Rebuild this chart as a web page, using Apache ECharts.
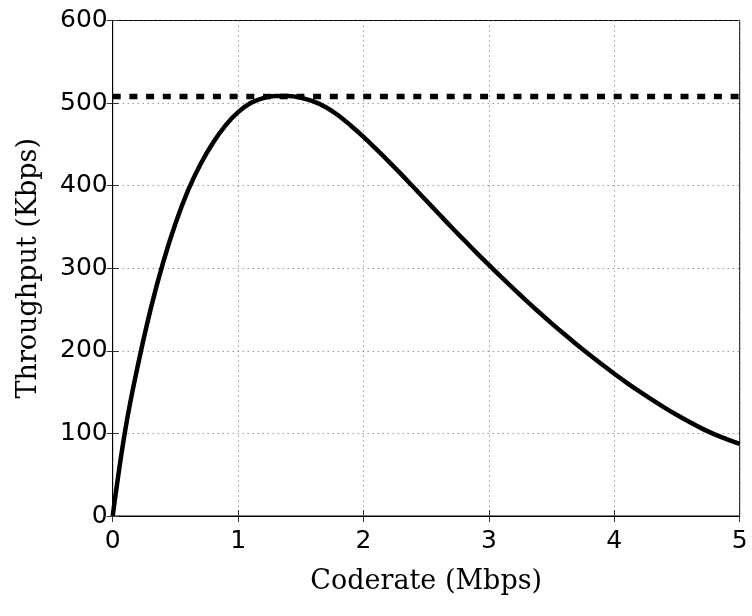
<!DOCTYPE html>
<html>
<head>
<meta charset="utf-8">
<script src="https://cdn.jsdelivr.net/npm/echarts@6/dist/echarts.min.js"></script>
<style>html,body{margin:0;padding:0;background:#fff;}#c{width:752px;height:616px;}</style>
</head>
<body>
<div id="c"></div>
<script>
// Data
var coderate = [0.0,0.1,0.2,0.3,0.4,0.5,0.6,0.7,0.8,0.9,
  1.0,1.1,1.2,1.3,1.4,1.5,1.6,1.7,1.8,1.9,
  2.0,2.1,2.2,2.3,2.4,2.5,2.6,2.7,2.8,2.9,
  3.0,3.1,3.2,3.3,3.4,3.5,3.6,3.7,3.8,3.9,
  4.0,4.1,4.2,4.3,4.4,4.5,4.6,4.7,4.8,4.9,5.0];
var throughput = [0,104,182,249,306,354,394,426,452,473,
  489,500,506,508.5,508.5,506.5,502,495,485,472.5,
  459,444.5,429.5,414,398,382,366,350,334.5,319,
  304,289.2,274.7,260.5,246.7,233.3,220.3,207.7,195.5,183.7,
  172.3,161.3,150.8,140.8,131.3,122.3,113.8,105.8,98.8,92.8,87.3];
var maxLineX = [0, 5];
var maxLineY = [508, 508];
var xTicks = [0,1,2,3,4,5];
var yTicks = [0,100,200,300,400,500,600];

var curve = coderate.map(function(x,i){return [x, throughput[i]];});
var maxLine = maxLineX.map(function(x,i){return [x, maxLineY[i]];});

var chart = echarts.init(document.getElementById('c'), null, {renderer:'canvas'});
var tickStyle = {show:true, inside:true, length:6, lineStyle:{color:'#333', width:1}};
var gridStyle = {show:true, lineStyle:{color:'#666', width:1, type:[1,4]}};
chart.setOption({
  animation:false,
  backgroundColor:'#fff',
  grid:{left:112.7, right:12.3, top:20.5, bottom:100, show:true, borderColor:'#000', borderWidth:1, backgroundColor:'transparent'},
  xAxis:[{
    type:'value', min:xTicks[0], max:xTicks[xTicks.length-1], interval:1, position:'bottom',
    name:'Coderate (Mbps)', nameLocation:'middle', nameGap:52,
    nameTextStyle:{fontFamily:'DejaVu Serif', fontSize:27, color:'#000'},
    axisLine:{show:true, lineStyle:{color:'#000', width:1}},
    axisTick:tickStyle,
    axisLabel:{fontFamily:'DejaVu Sans', fontSize:25, color:'#000', margin:13},
    splitLine:gridStyle
  },{
    type:'value', min:xTicks[0], max:xTicks[xTicks.length-1], interval:1, position:'top',
    axisLine:{show:true, lineStyle:{color:'#000', width:1}},
    axisTick:tickStyle, axisLabel:{show:false}, splitLine:{show:false}
  }],
  yAxis:[{
    type:'value', min:yTicks[0], max:yTicks[yTicks.length-1], interval:100, position:'left',
    name:'Throughput (Kbps)', nameLocation:'middle', nameGap:70,
    nameTextStyle:{fontFamily:'DejaVu Serif', fontSize:27, color:'#000'},
    axisLine:{show:true, lineStyle:{color:'#000', width:1}},
    axisTick:tickStyle,
    axisLabel:{fontFamily:'DejaVu Sans', fontSize:25, color:'#000', margin:5},
    splitLine:gridStyle
  },{
    type:'value', min:yTicks[0], max:yTicks[yTicks.length-1], interval:100, position:'right',
    axisLine:{show:true, lineStyle:{color:'#000', width:1}},
    axisTick:tickStyle, axisLabel:{show:false}, splitLine:{show:false}
  }],
  series:[{
    type:'line', data:curve, xAxisIndex:0, yAxisIndex:0, smooth:0.4, showSymbol:false, symbol:'none',
    lineStyle:{color:'#000', width:4.5}, clip:true, z:3
  },{
    type:'line', data:maxLine, xAxisIndex:0, yAxisIndex:0, showSymbol:false, symbol:'none',
    lineStyle:{color:'#000', width:5.5, type:[8,8.7]}, z:4
  }]
});
</script>
</body>
</html>
